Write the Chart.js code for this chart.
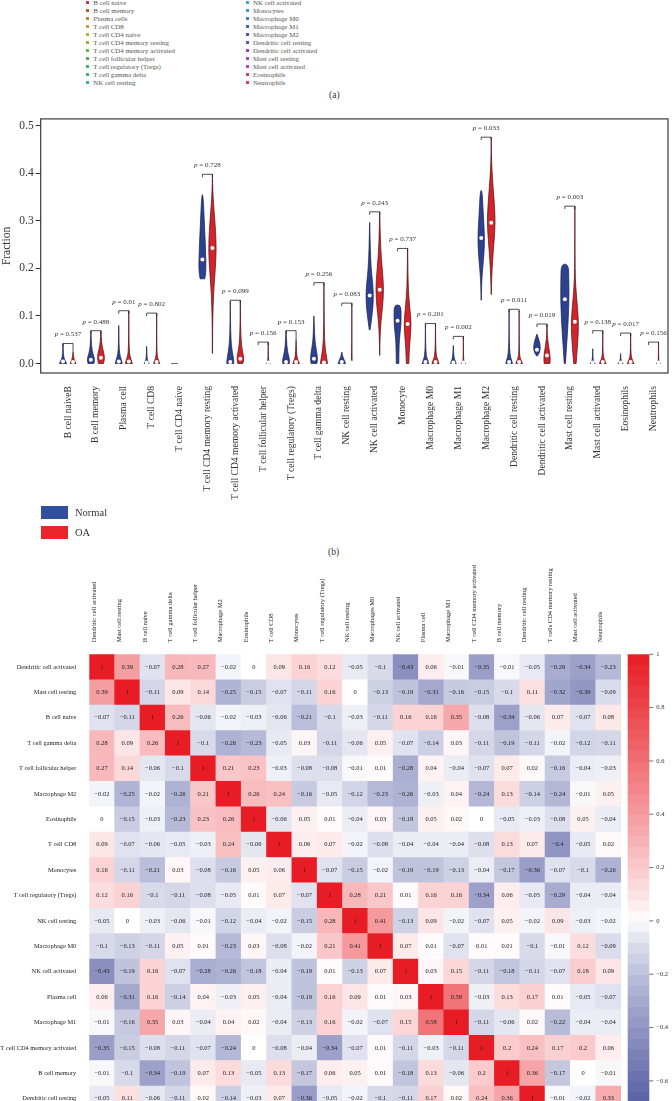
<!DOCTYPE html>
<html>
<head>
<meta charset="utf-8">
<script src="https://cdn.jsdelivr.net/npm/chart.js@4.4.0/dist/chart.umd.min.js"></script>
<style>
  html, body { margin: 0; padding: 0; background: #fff; }
  #page { position: relative; width: 672px; height: 1101px; overflow: hidden; font-family: 'Liberation Serif', serif; color: #333; }
  canvas { position: absolute; left: 0; }
  #violin { top: 110px; }
  #heat { top: 560px; }
  .item { position: absolute; font-size: 6.9px; line-height: 8px; white-space: nowrap; color: #555; }
  .sq { display: inline-block; width: 3px; height: 3px; margin-right: 4.3px; vertical-align: 1px; }
  .panel { position: absolute; font-size: 9.5px; color: #333; }
  .key { position: absolute; left: 41px; width: 27px; height: 13px; }
  .keytxt { position: absolute; left: 75px; font-size: 10.5px; line-height: 13px; color: #333; }
</style>
</head>
<body>
<div id="page">
  <div id="legA"></div>
  <div class="panel" style="left:329px;top:90px;">(a)</div>
  <canvas id="violin" width="672" height="400"></canvas>
  <div class="key" style="top:506px;background:#30509e;"></div>
  <div class="keytxt" style="top:506px;">Normal</div>
  <div class="key" style="top:526px;background:#e8262c;"></div>
  <div class="keytxt" style="top:526px;">OA</div>
  <div class="panel" style="left:328px;top:547px;">(b)</div>
  <canvas id="heat" width="672" height="640"></canvas>
</div>
<script>
// ---- panel (a) legend
const cellTypes = ['B cell naive', 'B cell memory', 'Plasma cells', 'T cell CD8', 'T cell CD4 naive',
  'T cell CD4 memory resting', 'T cell CD4 memory activated', 'T cell follicular helper',
  'T cell regulatory (Tregs)', 'T cell gamma delta', 'NK cell resting',
  'NK cell activated', 'Monocytes', 'Macrophage M0', 'Macrophage M1', 'Macrophage M2',
  'Dendritic cell resting', 'Dendritic cell activated', 'Mast cell resting', 'Mast cell activated',
  'Eosinophils', 'Neutrophils'];
const cellTypeColors = ['#c63c44', '#c5553a', '#b98a3a', '#bfa23a', '#b5b43d', '#9bb63f', '#6cb847',
  '#4caf50', '#45b26a', '#3cb38a', '#3ab3a3', '#3bb0bf', '#3a9fc0', '#3f7fc0', '#4363b8', '#5550b0',
  '#7048b0', '#8f45b0', '#b044ac', '#c04499', '#c8437e', '#c84363'];

// ---- panel (b) violins
const cats = ['B cell naiveB', 'B cell memory', 'Plasma cell', 'T cell CD8', 'T cell CD4 naive',
  'T cell CD4 memory resting', 'T cell CD4 memory activated', 'T cell follicular helper',
  'T cell regulatory (Tregs)', 'T cell gamma delta', 'NK cell resting', 'NK cell activated',
  'Monocyte', 'Macrophage M0', 'Macrophage M1', 'Macrophage M2', 'Dendritic cell resting',
  'Dendritic cell activated', 'Mast cell resting', 'Mast cell activated', 'Eosinophils', 'Neutrophils'];
const pValues = ['0.537', '0.488', '0.01', '0.802', null, '0.728', '0.099', '0.156', '0.153', '0.256',
  '0.083', '0.243', '0.737', '0.201', '0.002', '0.033', '0.911', '0.019', '0.003', '0.138', '0.017', '0.156'];
const yTicks = [0, 0.1, 0.2, 0.3, 0.4, 0.5];

// violin outlines: [fraction, relative half-width] from bottom to top
const normalShape = [
  [[0, 0.85], [0.005, 0.6], [0.01, 0.28], [0.02, 0.08], [0.042, 0.02]],
  [[0, 0.7], [0.008, 0.95], [0.02, 0.5], [0.035, 0.15], [0.069, 0.02]],
  [[0, 0.85], [0.008, 0.6], [0.02, 0.2], [0.04, 0.06], [0.08, 0.02]],
  [[0, 0.6], [0.005, 0.3], [0.012, 0.08], [0.036, 0.02]],
  [[0, 0.8]],
  [[0.178, 0.55], [0.19, 0.8], [0.21, 0.85], [0.24, 0.75], [0.28, 0.55], [0.32, 0.35], [0.345, 0.2], [0.355, 0.05]],
  [[0, 0.85], [0.01, 0.8], [0.025, 0.45], [0.05, 0.15], [0.09, 0.05], [0.13, 0.02]],
  null,
  [[0, 0.8], [0.008, 0.85], [0.02, 0.5], [0.035, 0.2], [0.069, 0.02]],
  [[0, 0.7], [0.01, 0.9], [0.03, 0.55], [0.05, 0.2], [0.1, 0.02]],
  [[0, 0.9], [0.008, 0.55], [0.015, 0.2], [0.024, 0.02]],
  [[0.071, 0.1], [0.09, 0.4], [0.12, 0.8], [0.145, 0.9], [0.17, 0.7], [0.2, 0.35], [0.24, 0.15], [0.297, 0.02]],
  [[0, 0.3], [0.04, 0.35], [0.065, 0.6], [0.08, 0.8], [0.1, 0.85], [0.123, 0.8]],
  [[0, 0.8], [0.007, 0.55], [0.015, 0.2], [0.04, 0.04], [0.084, 0.015]],
  [[0, 0.7], [0.006, 0.45], [0.012, 0.15], [0.038, 0.02]],
  [[0.133, 0.02], [0.17, 0.1], [0.2, 0.35], [0.235, 0.7], [0.265, 0.8], [0.3, 0.6], [0.33, 0.4], [0.352, 0.3], [0.364, 0.1]],
  [[0, 0.8], [0.007, 0.6], [0.018, 0.2], [0.05, 0.04], [0.114, 0.015]],
  [[0.016, 0.1], [0.022, 0.55], [0.03, 0.8], [0.04, 0.75], [0.05, 0.45], [0.058, 0.15], [0.062, 0.02]],
  [[0, 0.15], [0.03, 0.35], [0.06, 0.6], [0.1, 0.85], [0.14, 1.0], [0.18, 0.95], [0.209, 0.85]],
  [[0, 0.6], [0.004, 0.25], [0.01, 0.06], [0.031, 0.015]],
  [[0, 0.6], [0.004, 0.25], [0.01, 0.06], [0.021, 0.015]],
  null
];
const oaShape = [
  [[0, 0.7], [0.005, 0.45], [0.01, 0.2], [0.024, 0.02]],
  [[0, 0.6], [0.012, 0.95], [0.03, 0.45], [0.045, 0.15], [0.069, 0.02]],
  [[0, 0.85], [0.008, 0.55], [0.02, 0.15], [0.05, 0.04], [0.111, 0.015]],
  [[0, 0.75], [0.006, 0.5], [0.015, 0.12], [0.04, 0.03], [0.106, 0.012]],
  null,
  [[0.021, 0.02], [0.08, 0.05], [0.12, 0.15], [0.16, 0.35], [0.2, 0.7], [0.24, 0.92], [0.28, 0.75], [0.32, 0.4], [0.35, 0.15], [0.38, 0.04], [0.398, 0.01]],
  [[0, 0.6], [0.01, 0.9], [0.025, 0.5], [0.05, 0.15], [0.09, 0.05], [0.133, 0.02]],
  [[0, 0.5], [0.004, 0.2], [0.01, 0.05], [0.045, 0.01]],
  [[0, 0.8], [0.006, 0.5], [0.015, 0.15], [0.05, 0.02]],
  [[0, 0.85], [0.01, 0.7], [0.03, 0.3], [0.06, 0.08], [0.17, 0.015]],
  [[0, 0.15], [0.01, 0.03], [0.127, 0.01]],
  [[0.017, 0.01], [0.05, 0.06], [0.09, 0.3], [0.12, 0.7], [0.155, 0.95], [0.19, 0.7], [0.22, 0.4], [0.26, 0.15], [0.319, 0.02]],
  [[0, 0.3], [0.03, 0.4], [0.06, 0.7], [0.085, 0.85], [0.11, 0.6], [0.14, 0.3], [0.17, 0.12], [0.242, 0.02]],
  [[0, 0.85], [0.007, 0.6], [0.015, 0.2], [0.04, 0.04], [0.084, 0.015]],
  [[0, 0.5], [0.004, 0.2], [0.01, 0.04], [0.057, 0.01]],
  [[0.145, 0.02], [0.18, 0.1], [0.22, 0.35], [0.26, 0.7], [0.295, 0.95], [0.33, 0.8], [0.37, 0.45], [0.41, 0.15], [0.44, 0.05], [0.476, 0.01]],
  [[0, 0.8], [0.006, 0.5], [0.015, 0.12], [0.04, 0.03], [0.111, 0.01]],
  [[0, 0.7], [0.012, 0.8], [0.03, 0.5], [0.045, 0.25], [0.06, 0.07], [0.083, 0.015]],
  [[0, 0.3], [0.03, 0.55], [0.06, 0.8], [0.09, 0.85], [0.12, 0.6], [0.15, 0.3], [0.18, 0.1], [0.22, 0.04], [0.331, 0.01]],
  [[0, 0.8], [0.006, 0.5], [0.014, 0.15], [0.03, 0.04], [0.069, 0.01]],
  [[0, 0.8], [0.006, 0.5], [0.014, 0.15], [0.03, 0.04], [0.064, 0.01]],
  [[0, 0.5], [0.004, 0.15], [0.01, 0.03], [0.045, 0.01]]
];
const normalMedian = [0.004, 0.008, 0.004, 0.002, null, 0.219, 0.003, null, 0.003, 0.01, 0.003,
  0.143, 0.09, 0.003, 0.002, 0.264, 0.003, 0.029, 0.135, 0.002, 0.002, null];
const oaMedian = [0.003, 0.012, 0.004, 0.003, null, 0.243, 0.01, 0.002, 0.003, 0.002, 0.002,
  0.155, 0.083, 0.003, 0.002, 0.296, 0.003, 0.017, 0.088, 0.003, 0.003, 0.002];

// ---- panel (c) correlation heatmap
const colLabels = ['Dendritic cell activated', 'Mast cell resting', 'B cell naive', 'T cell gamma delta',
  'T cell follicular helper', 'Macrophage M2', 'Eosinophils', 'T cell CD8', 'Monocytes',
  'T cell regulatory (Tregs)', 'NK cell resting', 'Macrophages M0', 'NK cell activated', 'Plasma cell',
  'Macrophage M1', 'T cell CD4 memory activated', 'B cell memory', 'Dendritic cell resting',
  'T cells CD4 memory resting', 'Mast cell activated', 'Neutrophils'];
const rowLabels = ['Dendritic cell activated', 'Mast cell resting', 'B cell naive', 'T cell gamma delta',
  'T cell follicular helper', 'Macrophage M2', 'Eosinophils', 'T cell CD8', 'Monocytes',
  'T cell regulatory (Tregs)', 'NK cell resting', 'Macrophage M0', 'NK cell activated', 'Plasma cell',
  'Macrophage M1', 'T cell CD4 memory activated', 'B cell memory', 'Dendritic cell resting',
  'T cell CD4 memory resting', 'Mast cell activated', 'Neutrophils'];
const corr = [
  [1, 0.39, -0.07, 0.28, 0.27, -0.02, 0, 0.09, 0.16, 0.12, -0.05, -0.1, -0.43, 0.06, -0.01, -0.35, -0.01, -0.05, -0.29, -0.34, -0.23],
  [0.39, 1, -0.11, 0.09, 0.14, -0.25, -0.15, -0.07, -0.11, 0.16, 0, -0.13, -0.19, -0.31, -0.16, -0.15, -0.1, 0.11, -0.32, -0.39, -0.09],
  [-0.07, -0.11, 1, 0.26, -0.06, -0.02, -0.03, -0.06, -0.21, -0.1, -0.03, -0.11, 0.16, 0.16, 0.35, -0.08, -0.34, -0.06, 0.07, -0.07, 0.08],
  [0.28, 0.09, 0.26, 1, -0.1, -0.26, -0.23, -0.05, 0.03, -0.11, -0.06, 0.05, -0.07, -0.14, 0.03, -0.11, -0.19, -0.11, -0.02, -0.12, -0.11],
  [0.27, 0.14, -0.06, -0.1, 1, 0.21, 0.23, -0.03, -0.08, -0.08, -0.01, 0.01, -0.28, 0.04, -0.04, -0.07, 0.07, 0.02, -0.16, -0.04, -0.03],
  [-0.02, -0.25, -0.02, -0.26, 0.21, 1, 0.26, 0.24, -0.16, -0.05, -0.12, -0.23, -0.26, -0.03, 0.04, -0.24, 0.13, -0.14, -0.24, -0.01, 0.05],
  [0, -0.15, -0.03, -0.23, 0.23, 0.26, 1, -0.06, 0.05, 0.01, -0.04, 0.03, -0.18, 0.05, 0.02, 0, -0.05, -0.03, -0.08, 0.05, -0.04],
  [0.09, -0.07, -0.06, -0.05, -0.03, 0.24, -0.06, 1, 0.06, 0.07, -0.02, -0.08, -0.04, -0.04, -0.04, -0.08, 0.13, 0.07, -0.4, -0.05, 0.02],
  [0.16, -0.11, -0.21, 0.03, -0.08, -0.16, 0.05, 0.06, 1, -0.07, -0.15, -0.02, -0.19, -0.19, -0.13, -0.04, -0.17, -0.36, -0.07, -0.1, -0.26],
  [0.12, 0.16, -0.1, -0.11, -0.08, -0.05, 0.01, 0.07, -0.07, 1, 0.28, 0.21, 0.01, 0.16, 0.16, -0.34, 0.06, -0.05, -0.29, -0.04, -0.04],
  [-0.05, 0, -0.03, -0.06, -0.01, -0.12, -0.04, -0.02, -0.15, 0.28, 1, 0.41, -0.13, 0.09, -0.02, -0.07, 0.05, -0.02, 0.09, -0.03, -0.02],
  [-0.1, -0.13, -0.11, 0.05, 0.01, -0.23, 0.03, -0.08, -0.02, 0.21, 0.41, 1, 0.07, 0.01, -0.07, 0.01, 0.01, -0.1, -0.01, 0.12, -0.09],
  [-0.43, -0.19, 0.16, -0.07, -0.28, -0.26, -0.18, -0.04, -0.19, 0.01, -0.13, 0.07, 1, 0.03, 0.15, -0.11, -0.18, -0.11, -0.07, 0.18, 0.09],
  [0.06, -0.31, 0.16, -0.14, 0.04, -0.03, 0.05, -0.04, -0.19, 0.16, 0.09, 0.01, 0.03, 1, 0.58, -0.03, 0.13, 0.17, 0.01, -0.05, -0.07],
  [-0.01, -0.16, 0.35, 0.03, -0.04, 0.04, 0.02, -0.04, -0.13, 0.16, -0.02, -0.07, 0.15, 0.58, 1, -0.11, -0.06, 0.02, -0.22, -0.04, -0.04],
  [-0.35, -0.15, -0.08, -0.11, -0.07, -0.24, 0, -0.08, -0.04, -0.34, -0.07, 0.01, -0.11, -0.03, -0.11, 1, 0.2, 0.24, 0.17, 0.2, 0.06],
  [-0.01, -0.1, -0.34, -0.19, 0.07, 0.13, -0.05, 0.13, -0.17, 0.06, 0.05, 0.01, -0.18, 0.13, -0.06, 0.2, 1, 0.36, -0.17, 0, -0.01],
  [-0.05, 0.11, -0.06, -0.11, 0.02, -0.14, -0.03, 0.07, -0.36, -0.05, -0.02, -0.1, -0.11, 0.17, 0.02, 0.24, 0.36, 1, -0.01, -0.02, 0.33],
  [-0.29, -0.32, 0.07, -0.02, -0.16, -0.24, -0.08, -0.4, -0.07, -0.29, 0.09, -0.01, -0.07, 0.01, -0.22, 0.17, -0.17, -0.01, 1, 0.1, -0.05],
  [-0.34, -0.39, -0.07, -0.12, -0.04, -0.01, 0.05, -0.05, -0.1, -0.04, -0.03, 0.12, 0.18, -0.05, -0.04, 0.2, 0, -0.02, 0.1, 1, 0.08],
  [-0.23, -0.09, 0.08, -0.11, -0.03, 0.05, -0.04, 0.02, -0.26, -0.04, -0.02, -0.09, 0.09, -0.07, -0.04, 0.06, -0.01, 0.33, -0.05, 0.08, 1]
];
const cbTicks = [1, 0.8, 0.6, 0.4, 0.2, 0, -0.2, -0.4, -0.6, -0.8, -1];

// legend (a)
const legA = document.getElementById('legA');
cellTypes.forEach((name, i) => {
  const d = document.createElement('div');
  d.className = 'item';
  d.style.left = (i < 11 ? 86 : 245.7) + 'px';
  d.style.top = (8 * (i % 11) - 1.3) + 'px';
  d.innerHTML = `<span class="sq" style="background:${cellTypeColors[i]}"></span>${name}`;
  legA.appendChild(d);
});

Chart.defaults.font.family = "'Liberation Serif', serif";
Chart.defaults.color = '#333';

const OFFSET = 0.18; // Normal / OA shift from category centre
const HALF = 0.15;   // widest half width, category units

function drawViolin(ctx, shape, px, y, half, fill, stroke) {
  if (!shape) return;
  ctx.fillStyle = fill;
  ctx.strokeStyle = stroke;
  ctx.lineWidth = 0.7;
  if (shape.length === 1) {
    const yy = y.getPixelForValue(shape[0][0]);
    ctx.beginPath();
    ctx.moveTo(px - shape[0][1] * half, yy);
    ctx.lineTo(px + shape[0][1] * half, yy);
    ctx.stroke();
    return;
  }
  const left = shape.map(([v, w]) => [px - w * half, y.getPixelForValue(v)]);
  const right = shape.slice().reverse().map(([v, w]) => [px + w * half, y.getPixelForValue(v)]);
  const pts = left.concat(right);
  ctx.beginPath();
  ctx.moveTo(pts[0][0], pts[0][1]);
  for (let k = 1; k < pts.length - 1; k++) {
    ctx.quadraticCurveTo(pts[k][0], pts[k][1], (pts[k][0] + pts[k + 1][0]) / 2, (pts[k][1] + pts[k + 1][1]) / 2);
  }
  ctx.lineTo(pts[pts.length - 1][0], pts[pts.length - 1][1]);
  ctx.closePath();
  ctx.fill();
  ctx.stroke();
}

const topOf = s => (s ? s[s.length - 1][0] : 0);

const violinPlugin = {
  id: 'violins',
  beforeDatasetsDraw(chart) {
    const { ctx, scales: { x, y } } = chart;
    const half = (x.getPixelForValue(1) - x.getPixelForValue(0)) * HALF;
    ctx.save();
    cats.forEach((c, i) => {
      drawViolin(ctx, normalShape[i], x.getPixelForValue(i - OFFSET), y, half, '#2c4190', '#161c4a');
      drawViolin(ctx, oaShape[i], x.getPixelForValue(i + OFFSET), y, half, '#d5232a', '#4a0d10');
    });
    ctx.restore();
  },
  afterDatasetsDraw(chart) {
    const { ctx, chartArea: a, scales: { x, y } } = chart;
    ctx.save();
    ctx.strokeStyle = '#222';
    ctx.lineWidth = 0.8;
    cats.forEach((c, i) => {
      if (!pValues[i]) return;
      const h = Math.max(topOf(normalShape[i]), topOf(oaShape[i]));
      const yh = y.getPixelForValue(h);
      const yo = Math.max(y.getPixelForValue(topOf(oaShape[i])), yh + 3);
      const xl = x.getPixelForValue(i - OFFSET), xr = x.getPixelForValue(i + OFFSET);
      ctx.beginPath();
      ctx.moveTo(xl, yh + 3);
      ctx.lineTo(xl, yh);
      ctx.lineTo(xr, yh);
      ctx.lineTo(xr, yo);
      ctx.stroke();
      // p label
      const italic = "italic 7px 'Liberation Serif'", plain = "7px 'Liberation Serif'";
      const rest = ' = ' + pValues[i];
      ctx.font = italic; const w1 = ctx.measureText('p').width;
      ctx.font = plain; const w2 = ctx.measureText(rest).width;
      const x0 = x.getPixelForValue(i) - (w1 + w2) / 2;
      ctx.fillStyle = '#333';
      ctx.textBaseline = 'middle';
      ctx.textAlign = 'left';
      ctx.font = italic; ctx.fillText('p', x0, yh - 9);
      ctx.font = plain; ctx.fillText(rest, x0 + w1, yh - 9);
    });
    ctx.strokeStyle = '#3a3a3a';
    ctx.lineWidth = 1.2;
    ctx.strokeRect(a.left, a.top, a.right - a.left, a.bottom - a.top);
    ctx.restore();
  }
};

const medianPoints = (meds, shift) => meds.map((v, i) => (v == null ? null : { x: i + shift, y: v })).filter(Boolean);

new Chart(document.getElementById('violin'), {
  type: 'scatter',
  data: {
    datasets: [
      { label: 'Normal', data: medianPoints(normalMedian, -OFFSET), pointRadius: 2, backgroundColor: '#fff', borderWidth: 0 },
      { label: 'OA', data: medianPoints(oaMedian, OFFSET), pointRadius: 2, backgroundColor: '#fff', borderWidth: 0 }
    ]
  },
  options: {
    responsive: false,
    animation: false,
    events: [],
    layout: { padding: { top: 5.7, right: 1.3, left: 0, bottom: 0 } },
    plugins: { legend: { display: false }, tooltip: { enabled: false } },
    scales: {
      x: {
        type: 'linear', min: -0.98, max: 21.52,
        afterBuildTicks: s => { s.ticks = cats.map((c, i) => ({ value: i })); },
        afterFit: s => { s.height = 137; },
        ticks: { autoSkip: false, minRotation: 90, maxRotation: 90, padding: 5, color: '#333',
          font: { size: 9.6 }, callback: v => cats[v] },
        grid: { display: false },
        border: { display: false }
      },
      y: {
        min: -0.02, max: 0.5145,
        afterBuildTicks: s => { s.ticks = yTicks.map(v => ({ value: v })); },
        afterFit: s => { s.width = 40.7; },
        ticks: { padding: 2, color: '#333', font: { size: 11.5 }, callback: v => v.toFixed(1) },
        grid: { drawOnChartArea: false, tickLength: 5, color: '#333' },
        border: { display: false },
        title: { display: true, text: 'Fraction', color: '#333', font: { size: 11.5 }, padding: 0 }
      }
    }
  },
  plugins: [violinPlugin]
});

// heatmap colours
function corrColor(v) {
  if (v >= 0) {
    const f = Math.pow(Math.min(1, v), 0.9);
    return `rgb(${Math.round(255 - 23 * f)},${Math.round(255 - 227 * f)},${Math.round(255 - 219 * f)})`;
  }
  const f = Math.pow(Math.min(1, -v), 0.75);
  return `rgb(${Math.round(255 - 220 * f)},${Math.round(255 - 210 * f)},${Math.round(255 - 120 * f)})`;
}
const fmt = v => (v < 0 ? '\u2212' + String(-v) : String(v));

const heatPlugin = {
  id: 'heatText',
  afterDatasetsDraw(chart) {
    const { ctx, scales: { x, y } } = chart;
    ctx.save();
    ctx.font = "6.5px 'Liberation Serif'";
    ctx.fillStyle = '#222';
    ctx.textAlign = 'center';
    ctx.textBaseline = 'middle';
    corr.forEach((row, r) => row.forEach((v, c) => {
      ctx.fillText(fmt(v), x.getPixelForValue(c), y.getPixelForValue(r));
    }));
    ctx.restore();
  },
  afterDraw(chart) {
    const { ctx, chartArea: a, scales: { cb } } = chart;
    const x0 = a.right + 6.7, w = 21.6;
    ctx.save();
    for (let k = 0; k < 50; k++) {
      const v0 = -1 + k * 0.04;
      const yA = cb.getPixelForValue(v0 + 0.04), yB = cb.getPixelForValue(v0);
      ctx.fillStyle = corrColor(v0 + 0.02);
      ctx.fillRect(x0, yA, w, yB - yA + 0.6);
    }
    ctx.strokeStyle = '#333';
    ctx.lineWidth = 0.7;
    ctx.fillStyle = '#333';
    ctx.font = "6.5px 'Liberation Serif'";
    ctx.textAlign = 'left';
    ctx.textBaseline = 'middle';
    cbTicks.forEach(v => {
      const yy = cb.getPixelForValue(v);
      ctx.beginPath();
      ctx.moveTo(x0 + w, yy);
      ctx.lineTo(x0 + w + 4, yy);
      ctx.stroke();
      ctx.fillText(fmt(v), x0 + w + 7, yy);
    });
    ctx.restore();
  }
};

const cells = [];
corr.forEach((row, r) => row.forEach((v, c) => cells.push({ x: c, y: r, v })));

new Chart(document.getElementById('heat'), {
  type: 'scatter',
  data: {
    datasets: [{
      data: cells,
      pointStyle: 'rect',
      pointRadius: ctx => {
        const a = ctx.chart.chartArea;
        return a ? ((a.right - a.left) / colLabels.length + 0.6) / Math.SQRT2 : 0;
      },
      backgroundColor: ctx => corrColor(ctx.raw ? ctx.raw.v : 0),
      borderWidth: 0
    }]
  },
  options: {
    responsive: false,
    animation: false,
    events: [],
    layout: { padding: { top: 0, right: 51, left: 0, bottom: 12.5 } },
    plugins: { legend: { display: false }, tooltip: { enabled: false } },
    scales: {
      x: {
        type: 'linear', position: 'top', min: -0.5, max: 20.5,
        afterBuildTicks: s => { s.ticks = colLabels.map((c, i) => ({ value: i })); },
        afterFit: s => { s.height = 94.3; },
        ticks: { autoSkip: false, minRotation: 90, maxRotation: 90, padding: 4, color: '#222',
          font: { size: 6.5 }, callback: v => colLabels[v] },
        grid: { display: false },
        border: { display: false }
      },
      y: {
        type: 'linear', min: -0.5, max: 20.5, reverse: true,
        afterBuildTicks: s => { s.ticks = rowLabels.map((c, i) => ({ value: i })); },
        afterFit: s => { s.width = 89.3; },
        ticks: { autoSkip: false, padding: 5, color: '#222', font: { size: 6.4 }, callback: v => rowLabels[v] },
        grid: { display: false },
        border: { display: false }
      },
      cb: { type: 'linear', position: 'right', display: false, min: -1, max: 1 }
    }
  },
  plugins: [heatPlugin]
});
</script>
</body>
</html>
